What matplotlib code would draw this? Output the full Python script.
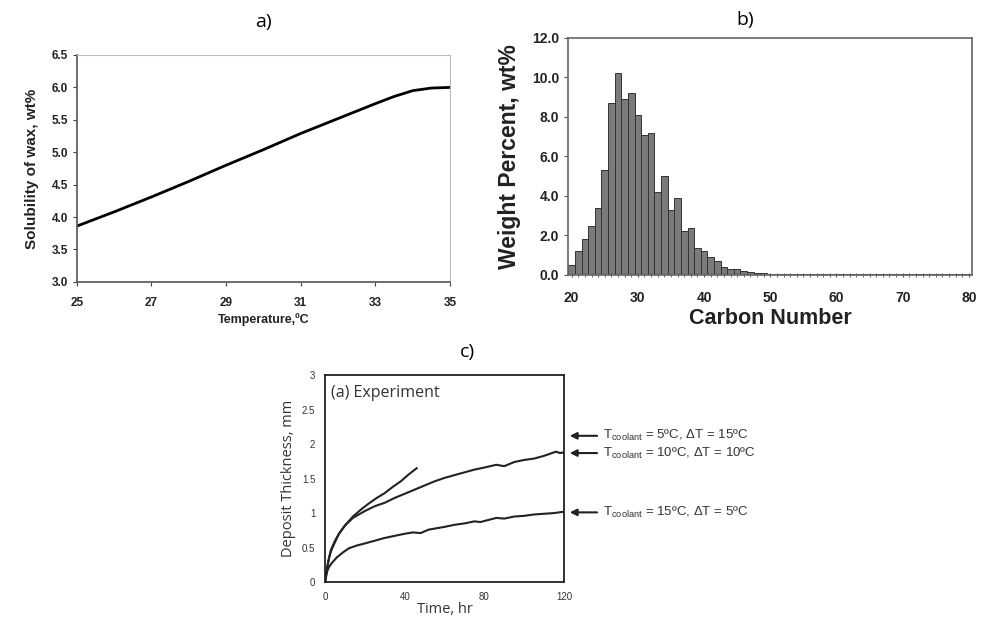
import numpy as np
import matplotlib
matplotlib.use('Agg')
import matplotlib.pyplot as plt

plt.rcParams['font.family'] = ['Liberation Sans', 'DejaVu Sans']
plt.rcParams['mathtext.default'] = 'regular'

# a) solubility of wax vs temperature
temp_c = [25, 26, 27, 28, 29, 30, 31, 32, 33, 33.5, 34, 34.5, 35]
solubility = [3.86, 4.08, 4.31, 4.55, 4.80, 5.04, 5.29, 5.52, 5.75, 5.86, 5.95, 5.99, 6.0]

# b) carbon number distribution
carbon_no = list(range(20, 81))
wt_pct = [0.5, 1.2, 1.8, 2.5, 3.4, 5.3, 8.7, 10.2, 8.9, 9.2,
          8.1, 7.1, 7.2, 4.2, 5.0, 3.3, 3.9, 2.2, 2.4, 1.35,
          1.2, 0.9, 0.7, 0.4, 0.3, 0.3, 0.2, 0.15, 0.1, 0.1,
          0.05] + [0.03] * 30

# c) deposit thickness vs time
t1 = [0, 1, 2, 3, 5, 7, 10, 14, 18, 22, 26, 30, 34, 38, 42, 46]
d1 = [0, 0.2, 0.35, 0.47, 0.6, 0.7, 0.82, 0.95, 1.05, 1.14, 1.22, 1.29, 1.38, 1.46, 1.56, 1.65]
t2 = [0, 1, 2, 3, 5, 7, 10, 14, 20, 25, 30, 35, 40, 45, 50, 55, 60, 65, 70, 75,
      80, 86, 90, 95, 100, 105, 110, 113, 116, 118, 120]
d2 = [0, 0.2, 0.35, 0.45, 0.58, 0.7, 0.82, 0.93, 1.03, 1.1, 1.15, 1.22, 1.28, 1.34, 1.4, 1.46,
      1.51, 1.55, 1.59, 1.63, 1.66, 1.70, 1.68, 1.74, 1.77, 1.79, 1.83, 1.86, 1.89, 1.87, 1.88]
t3 = [0, 1, 2, 3.5, 6, 9, 12, 16, 20, 25, 30, 35, 40, 44, 48, 52, 56, 60, 65, 70,
      75, 78, 82, 86, 90, 95, 100, 105, 110, 115, 120]
d3 = [0, 0.15, 0.22, 0.28, 0.36, 0.43, 0.49, 0.53, 0.56, 0.6, 0.64, 0.67, 0.7, 0.72, 0.71, 0.76,
      0.78, 0.80, 0.83, 0.85, 0.88, 0.87, 0.9, 0.93, 0.92, 0.95, 0.96, 0.98, 0.99, 1.0, 1.02]

labels_c = ['T$_{coolant}$ = 5ºC, ΔT = 15ºC',
            'T$_{coolant}$ = 10ºC, ΔT = 10ºC',
            'T$_{coolant}$ = 15ºC, ΔT = 5ºC']
label_y = [2.12, 1.87, 1.01]

fig = plt.figure(figsize=(9.85, 6.32), dpi=100)

# ---- panel a
ax1 = fig.add_axes([0.078, 0.554, 0.379, 0.359])
ax1.plot(temp_c, solubility, color='black', lw=2)
ax1.set_xlim(25, 35)
ax1.set_ylim(3.0, 6.5)
ax1.set_xticks([25, 27, 29, 31, 33, 35])
ax1.set_yticks(np.arange(3.0, 6.51, 0.5))
ax1.yaxis.set_major_formatter(matplotlib.ticker.FormatStrFormatter('%.1f'))
for lab in ax1.get_xticklabels() + ax1.get_yticklabels():
    lab.set_fontweight('bold')
ax1.tick_params(labelsize=8.5, length=3, color='#444444', labelcolor='#222222')
ax1.tick_params(axis='x', pad=8)
ax1.set_xlabel('Temperature,ºC', fontsize=9, fontweight='bold', labelpad=3, color='#222222')
ax1.set_ylabel('Solubility of wax, wt%', fontsize=11, fontweight='bold', labelpad=9,
               color='#222222')
for s in ['top', 'right']:
    ax1.spines[s].set_color('#bbbbbb')
for s in ['left', 'bottom']:
    ax1.spines[s].set_color('#555555')
    ax1.spines[s].set_linewidth(1.2)
fig.text(0.267, 0.965, 'a)', fontsize=14, ha='center', va='center', family='Open Sans')

# ---- panel b
ax2 = fig.add_axes([0.577, 0.565, 0.41, 0.375])
ax2.bar(carbon_no, wt_pct, width=1.0, color='#7a7a7a', edgecolor='#333333', linewidth=0.7)
ax2.set_xlim(19.5, 80.5)
ax2.set_ylim(0, 12)
ax2.set_xticks([20, 30, 40, 50, 60, 70, 80])
ax2.set_xticks(carbon_no, minor=True)
ax2.set_yticks(np.arange(0, 12.1, 2))
ax2.yaxis.set_major_formatter(matplotlib.ticker.FormatStrFormatter('%.1f'))
for lab in ax2.get_xticklabels() + ax2.get_yticklabels():
    lab.set_fontweight('bold')
ax2.tick_params(labelsize=10, length=3, color='#555555', labelcolor='#222222')
ax2.tick_params(axis='x', which='minor', length=3, direction='inout', color='#555555')
ax2.tick_params(axis='x', which='major', length=3, direction='inout', pad=10)
ax2.set_xlabel('Carbon Number', fontsize=15.5, fontweight='bold', labelpad=2, color='#222222')
ax2.set_ylabel('Weight Percent, wt%', fontsize=16.5, fontweight='bold', labelpad=8,
               color='#222222')
for s in ax2.spines.values():
    s.set_color('#666666')
    s.set_linewidth(1.2)
fig.text(0.757, 0.968, 'b)', fontsize=14, ha='center', va='center', family='Open Sans')

# ---- panel c
ax3 = fig.add_axes([0.330, 0.079, 0.2426, 0.3275])
for tt, dd in [(t1, d1), (t2, d2), (t3, d3)]:
    ax3.plot(tt, dd, color='#222222', lw=1.5)
ax3.set_xlim(0, 120)
ax3.set_ylim(0, 3)
ax3.set_xticks([0, 40, 80, 120])
ax3.set_yticks([0, 0.5, 1, 1.5, 2, 2.5, 3])
ax3.set_yticklabels(['0', '0.5', '1', '1.5', '2', '2.5', '3'])
ax3.tick_params(labelsize=7, length=0, pad=7, labelcolor='#333333')
ax3.set_xlabel('Time, hr', fontsize=10.5, family='Open Sans', color='#333333', labelpad=0)
ax3.set_ylabel('Deposit Thickness, mm', fontsize=10.5, family='Open Sans', color='#333333')
for s in ax3.spines.values():
    s.set_color('#222222')
    s.set_linewidth(1.3)
ax3.text(0.025, 0.915, '(a) Experiment', transform=ax3.transAxes, fontsize=11.5,
         family='Open Sans', color='#333333', va='center')
for lab, yy in zip(labels_c, label_y):
    ax3.annotate('', xy=(121.5, yy), xytext=(138, yy), annotation_clip=False,
                 arrowprops=dict(arrowstyle='-|>', color='#222222', lw=1.5,
                                 mutation_scale=10))
    ax3.text(139.5, yy, lab, fontsize=9.5, va='center', color='#333333',
             clip_on=False)
fig.text(0.475, 0.443, 'c)', fontsize=14, ha='center', va='center', family='Open Sans')

fig.savefig('out.png', dpi=100)
